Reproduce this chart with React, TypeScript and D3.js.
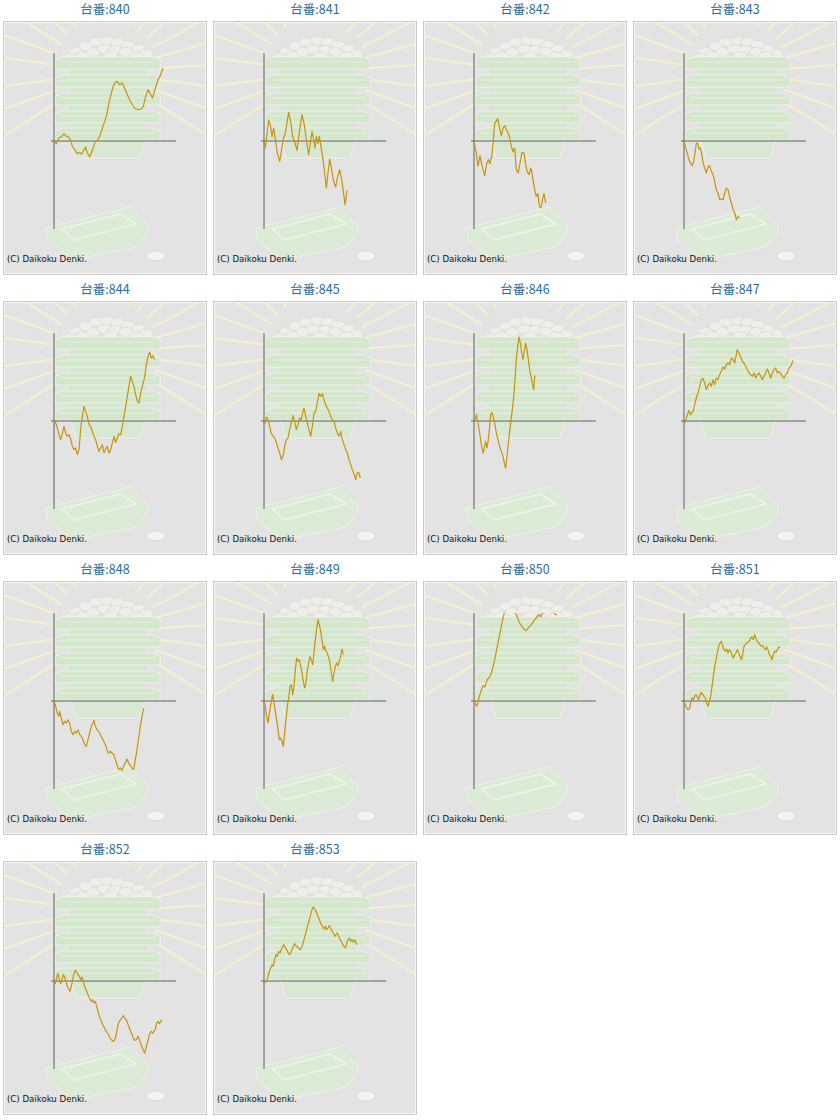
import React from 'react';
import * as d3 from 'd3';

type Pt = [number, number];

// machine numbers (panel titles)
const machines = ['840', '841', '842', '843', '844', '845', '846', '847', '848', '849', '850', '851', '852', '853'];

// [spins, balls]
const s840: Pt[] = [[0,0],[233,-267],[500,333],[733,400],[1000,733],[1233,467],[1467,400],[1667,67],[1833,-533],[2067,-867],[2300,-1267],[2567,-1133],[2767,-1333],[2967,-933],[3167,-600],[3333,-1200],[3567,-1600],[3833,-933],[4100,-133],[4400,133],[4633,633],[4900,1467],[5233,2467],[5567,4133],[5900,5400],[6100,5800],[6300,5967],[6567,5633],[6833,5800],[7100,5200],[7400,4467],[7733,3800],[8067,3300],[8400,3133],[8733,3200],[8933,3467],[9167,4467],[9400,5133],[9633,4733],[9833,4300],[10000,4800],[10233,5633],[10433,6200],[10633,6533],[10900,7300]];
const s841: Pt[] = [[0,0],[133,-700],[300,800],[467,2067],[633,1633],[800,467],[967,1300],[1133,133],[1333,-1200],[1567,-2033],[1733,-1033],[1900,133],[2100,633],[2267,1633],[2467,2867],[2667,1967],[2867,467],[3100,-200],[3300,-933],[3500,633],[3800,2633],[4000,1800],[4233,133],[4467,-1367],[4633,-200],[4800,967],[4967,133],[5100,-700],[5233,467],[5400,-267],[5533,467],[5700,-533],[5900,-1867],[6067,-3200],[6233,-4700],[6400,-3200],[6567,-1800],[6767,-2933],[6967,-4033],[7167,-4600],[7367,-3533],[7567,-2867],[7767,-3867],[7933,-5033],[8100,-6367],[8300,-4933]];
const s842: Pt[] = [[0,0],[233,-1200],[400,-2533],[600,-1467],[800,-2467],[1067,-3467],[1267,-2267],[1433,-1867],[1600,-2267],[1800,-1367],[1933,133],[2067,1733],[2367,2233],[2567,1200],[2733,533],[2900,1300],[3100,1533],[3300,967],[3500,633],[3733,-533],[3900,-1067],[4067,-700],[4233,-2867],[4433,-3200],[4600,-2200],[4800,-1133],[5000,-1200],[5133,-2133],[5300,-3033],[5500,-3367],[5700,-2700],[5900,-3867],[6067,-4867],[6233,-5533],[6400,-5267],[6533,-6533],[6700,-6667],[6867,-5800],[7000,-5267],[7167,-6200]];
const s843: Pt[] = [[0,0],[133,-533],[300,-1133],[500,-1867],[667,-2267],[833,-2467],[967,-2033],[1100,-1200],[1233,-200],[1367,-267],[1500,-800],[1633,-700],[1767,-1267],[1900,-2133],[2067,-2700],[2233,-3200],[2400,-2600],[2567,-2467],[2733,-3033],[2900,-3367],[3067,-4033],[3233,-4867],[3400,-5200],[3567,-5867],[3733,-5800],[3900,-5867],[4067,-5200],[4233,-4700],[4400,-4867],[4567,-5600],[4733,-6200],[4900,-6800],[5067,-7200],[5233,-7867],[5400,-7533],[5567,-7700]];
const s844: Pt[] = [[0,0],[167,-200],[333,-700],[500,-1367],[667,-1867],[833,-1267],[1000,-533],[1167,-1200],[1333,-1533],[1500,-1367],[1667,-1800],[1833,-2533],[2000,-2867],[2167,-2700],[2333,-3367],[2500,-2867],[2667,-867],[2833,467],[3000,1467],[3167,967],[3333,467],[3500,-367],[3667,-533],[3833,-1033],[4000,-1533],[4167,-1867],[4333,-2533],[4500,-3033],[4667,-2700],[4833,-2367],[5000,-3200],[5167,-2800],[5333,-2533],[5500,-3200],[5667,-2867],[5833,-2200],[6000,-1533],[6167,-2133],[6333,-1700],[6500,-1267],[6667,-1367],[6833,-533],[7000,467],[7167,1467],[7333,2467],[7500,3533],[7667,4467],[7833,3967],[8000,3467],[8167,2633],[8333,1967],[8500,1800],[8667,2800],[8833,3467],[9000,4133],[9100,4633],[9233,5633],[9400,6467],[9567,6867],[9733,6300],[9900,6533],[10033,6133]];
const s845: Pt[] = [[0,0],[133,-200],[233,400],[400,133],[567,-533],[733,-1267],[900,-1467],[1067,-1700],[1233,-2133],[1400,-2700],[1567,-3200],[1733,-3867],[1900,-3533],[2067,-2533],[2233,-1867],[2400,-1700],[2567,-867],[2733,-200],[2900,533],[3067,-33],[3233,-867],[3400,-367],[3567,300],[3733,133],[3900,967],[4000,1300],[4167,467],[4333,-200],[4500,-867],[4667,-1533],[4833,-533],[5000,800],[5167,967],[5333,1800],[5500,2733],[5667,2467],[5833,2733],[6000,2133],[6167,1633],[6333,1300],[6500,967],[6667,467],[6833,133],[7000,-33],[7167,-700],[7333,-1200],[7500,-1533],[7667,-1033],[7833,-1867],[8000,-2367],[8167,-2867],[8333,-3200],[8500,-3867],[8667,-4367],[8833,-4867],[9000,-5267],[9167,-5867],[9333,-5133],[9500,-5200],[9633,-5700]];
const s846: Pt[] = [[0,0],[133,133],[233,633],[400,-200],[567,-1200],[733,-2367],[900,-3200],[1033,-2700],[1167,-2033],[1300,-2700],[1433,-1867],[1567,-533],[1667,633],[1800,867],[1900,467],[2067,-200],[2233,-1200],[2400,-1867],[2567,-2533],[2733,-3033],[2900,-3533],[3067,-4367],[3167,-4700],[3300,-3533],[3433,-2200],[3567,-1033],[3700,133],[3833,1133],[3967,2300],[4100,4133],[4233,6133],[4367,7467],[4500,8400],[4633,7800],[4767,6800],[4900,6133],[5033,6967],[5167,7800],[5300,7133],[5433,6133],[5567,5133],[5700,4467],[5833,3800],[5967,3133],[6067,4467],[6167,4533]];
const s847: Pt[] = [[0,0],[133,-133],[233,300],[400,800],[500,1067],[633,633],[767,800],[900,967],[1067,1633],[1233,2300],[1400,2800],[1567,3467],[1733,4133],[1900,4267],[2067,3800],[2233,3133],[2400,3533],[2567,3800],[2733,3467],[2900,4133],[3067,3633],[3233,4300],[3400,4133],[3567,4633],[3733,4967],[3900,5400],[4067,5200],[4233,5633],[4400,5800],[4567,5633],[4733,6300],[4900,6200],[5067,5800],[5233,6633],[5333,7133],[5500,6800],[5667,6400],[5833,5967],[6000,5800],[6167,5467],[6333,5133],[6500,4800],[6667,4633],[6833,4467],[7000,4800],[7167,4300],[7333,4633],[7500,4800],[7667,4467],[7833,4133],[8000,4467],[8167,4800],[8333,5200],[8500,4800],[8667,4300],[8833,4800],[9000,5133],[9167,5300],[9333,4800],[9500,4967],[9667,4733],[9833,4467],[10000,4300],[10167,4633],[10333,4800],[10500,5300],[10667,5467],[10833,5867],[10900,6067]];
const s848: Pt[] = [[0,0],[167,-533],[333,-1200],[467,-1533],[567,-1033],[733,-1700],[900,-2367],[1067,-2033],[1233,-2200],[1400,-1867],[1567,-2200],[1733,-3033],[1900,-3367],[2067,-3033],[2233,-3200],[2400,-2867],[2567,-3367],[2733,-3533],[2900,-3867],[3067,-4367],[3233,-4533],[3400,-3867],[3567,-3200],[3733,-2533],[3900,-2200],[4000,-1933],[4133,-2533],[4300,-2867],[4467,-3033],[4633,-3367],[4800,-3700],[4967,-4033],[5133,-4367],[5300,-4867],[5467,-5200],[5633,-5033],[5800,-5200],[5967,-5367],[6133,-5867],[6300,-6367],[6467,-6867],[6633,-6700],[6800,-6933],[6967,-6533],[7133,-6200],[7300,-5800],[7467,-6200],[7633,-6467],[7800,-6700],[7967,-6867],[8133,-5867],[8300,-4867],[8467,-3700],[8633,-2533],[8800,-1533],[8967,-700]];
const s849: Pt[] = [[0,0],[133,-533],[267,-1533],[400,-2200],[567,-1033],[733,-33],[867,633],[1000,-200],[1133,-1033],[1267,-1867],[1400,-2867],[1533,-3867],[1667,-3700],[1800,-4033],[1933,-4533],[2067,-3200],[2200,-1867],[2333,-533],[2467,300],[2600,1467],[2733,1633],[2867,633],[3000,1467],[3133,3133],[3267,4300],[3400,3967],[3533,4133],[3667,3467],[3800,2800],[3933,1967],[4067,1300],[4200,1800],[4333,3133],[4467,3800],[4600,4467],[4733,4133],[4867,3633],[5000,4800],[5133,6133],[5267,7300],[5400,8133],[5533,7633],[5667,6967],[5800,6133],[5933,5133],[6067,5467],[6200,4967],[6333,4800],[6467,4300],[6600,3800],[6733,2800],[6867,1967],[7000,2800],[7133,3467],[7267,3800],[7400,3533],[7533,3967],[7667,4467],[7800,5200],[7933,4633]];
const s850: Pt[] = [[0,0],[133,-267],[267,-533],[400,-133],[533,467],[667,867],[800,1300],[933,1533],[1067,1400],[1200,1733],[1333,2133],[1467,2300],[1600,2467],[1733,2800],[1867,3300],[2000,3800],[2133,4467],[2267,5133],[2400,5800],[2533,6467],[2667,7133],[2800,7800],[2933,8467],[3067,8867],[3233,9300],[3400,8967],[3567,9133],[3733,9467],[3900,9133],[4067,8867],[4233,8633],[4400,8200],[4567,7800],[4733,7567],[4900,7300],[5067,7133],[5233,7033],[5400,7300],[5567,7467],[5733,7633],[5900,7867],[6067,8133],[6300,8400],[6500,8633],[6667,8400],[6833,8800],[7000,8800],[7167,8867],[7400,9300],[7633,9467],[7833,9133],[8000,8800],[8167,8633],[8300,8633]];
const s851: Pt[] = [[0,0],[133,-367],[267,-700],[400,-867],[533,-800],[667,-200],[800,300],[933,133],[1067,467],[1200,633],[1333,400],[1467,133],[1600,633],[1733,867],[1867,633],[2000,467],[2133,300],[2267,-200],[2400,-533],[2533,-33],[2667,467],[2800,1467],[2933,2467],[3067,3467],[3200,4133],[3333,4800],[3467,5467],[3600,5800],[3733,5967],[3867,5467],[4000,5133],[4133,4967],[4267,5200],[4400,4800],[4533,5133],[4667,4967],[4800,4633],[4933,4300],[5067,4633],[5200,4800],[5333,5133],[5467,4867],[5600,4467],[5733,4133],[5867,4633],[6000,5467],[6133,5633],[6267,5800],[6400,5867],[6533,5967],[6667,6300],[6800,6400],[6933,6133],[7067,6633],[7200,6200],[7333,5967],[7467,5800],[7600,5633],[7733,5467],[7867,5533],[8000,5300],[8133,5133],[8267,5400],[8400,5133],[8533,4633],[8667,4467],[8800,4133],[8933,4633],[9067,4967],[9200,4867],[9333,5133],[9467,5400],[9600,5300]];
const s852: Pt[] = [[0,0],[133,-267],[267,300],[400,733],[533,200],[667,-267],[800,133],[933,633],[1067,400],[1200,-33],[1333,-533],[1467,-800],[1600,-1033],[1733,-533],[1867,133],[2000,800],[2133,1067],[2267,867],[2400,633],[2533,467],[2667,133],[2800,400],[2933,-33],[3067,-533],[3200,-867],[3333,-1200],[3467,-1533],[3600,-1800],[3733,-2033],[3867,-1867],[4000,-2200],[4133,-2033],[4267,-2533],[4400,-3033],[4533,-3533],[4667,-3867],[4800,-4200],[4933,-4533],[5067,-4700],[5200,-5033],[5333,-5200],[5467,-5367],[5600,-5700],[5733,-5867],[5867,-5967],[6000,-6033],[6133,-5700],[6267,-5133],[6400,-4367],[6533,-4033],[6667,-3867],[6800,-3700],[6933,-3467],[7067,-3700],[7200,-3867],[7333,-4133],[7467,-4533],[7600,-4867],[7733,-5200],[7867,-5533],[8000,-5867],[8133,-5933],[8267,-5800],[8400,-5533],[8533,-5867],[8667,-6267],[8800,-6600],[8933,-6933],[9067,-7200],[9200,-6700],[9333,-6200],[9467,-5700],[9600,-5200],[9733,-5033],[9867,-5200],[10000,-5033],[10133,-4800],[10267,-4200],[10400,-4033],[10533,-4267],[10667,-4033],[10800,-3867]];
const s853: Pt[] = [[0,0],[133,-133],[267,-33],[400,467],[533,967],[667,1300],[800,1633],[933,1467],[1067,2133],[1200,2633],[1333,2467],[1467,2967],[1600,2800],[1733,3133],[1867,3467],[2000,3633],[2133,3300],[2267,3133],[2400,2867],[2533,2633],[2667,2800],[2800,3133],[2933,3467],[3067,3733],[3200,3533],[3333,3400],[3467,3300],[3600,3133],[3733,3300],[3867,3633],[4000,4133],[4133,4633],[4267,5133],[4400,5633],[4533,6133],[4667,6633],[4800,7133],[4933,7400],[5067,7200],[5200,6967],[5333,6633],[5467,6300],[5600,5967],[5733,5633],[5867,5400],[6000,5200],[6133,5467],[6267,5133],[6400,5300],[6533,5533],[6667,5300],[6800,4967],[6933,4800],[7067,4467],[7200,4633],[7333,4800],[7467,4467],[7600,4133],[7733,3967],[7867,3633],[8000,3467],[8133,3300],[8267,3733],[8400,4133],[8533,4300],[8667,3967],[8800,4133],[8933,3867],[9067,4133],[9200,3800],[9333,3633]];

const series = [s840, s841, s842, s843, s844, s845, s846, s847, s848, s849, s850, s851, s852, s853];

const spinDomain = [0, 12200];
const ballDomain = [-8800, 8800];

const COLS = 4;
const CELL_W = 210;
const CELL_H = 280;

const x = d3.scaleLinear().domain(spinDomain).range([54, 176]);
const y = d3.scaleLinear().domain(ballDomain).range([229, 53]);
const line = d3.line<Pt>().x(d => x(d[0])).y(d => y(d[1]));

// decorative artwork behind each graph
const rayAngles = [-172, -160, -148, -136, -124, -112, -100, -88, -76, -64, -52, -40, -28, -16, -4, 8, 20, 32, 148, 160, 172];
const balls: Pt[] = [[76, 52], [86, 46], [96, 42], [107, 41], [118, 42], [128, 45], [138, 49], [146, 54], [82, 56], [93, 52], [104, 49], [115, 50], [126, 52], [136, 56], [70, 58], [110, 56]];
const trays = [57, 75, 93, 111, 128];

const Backdrop: React.FC = () => (
  <g>
    <rect x={3.5} y={21.5} width={203} height={253} fill="#e3e3e3" stroke="#c9c9c9" />
    <rect x={4.5} y={22.5} width={201} height={251} fill="none" stroke="#f6f6f6" />
    <g clipPath="url(#panelClip)" stroke="#f3f1cd" strokeWidth={2.2}>
      {rayAngles.map(a => {
        const r = (a * Math.PI) / 180;
        return (
          <line key={a} x1={106 + 52 * Math.cos(r)} y1={72 + 52 * Math.sin(r)}
            x2={106 + 125 * Math.cos(r)} y2={72 + 125 * Math.sin(r)} />
        );
      })}
    </g>
    {balls.map((b, i) => (
      <ellipse key={i} cx={b[0]} cy={b[1]} rx={7} ry={4.5} fill="#efeee9" stroke="#dadad4" strokeWidth={0.8} />
    ))}
    <polygon points="70,138 146,138 140,158 76,158" fill="#d8e8d2" stroke="#f2f2f2" strokeWidth={0.8} />
    <rect x={70} y={58} width={76} height={82} fill="#d6e7d0" />
    {trays.map(t => (
      <g key={t}>
        <polygon points={`55,${t + 3} 63,${t} 152,${t} 160,${t + 3} 160,${t + 12} 55,${t + 12}`}
          fill="#d4e7cd" stroke="#edf5ea" strokeWidth={0.8} />
        <line x1={60} x2={156} y1={t + 5} y2={t + 5} stroke="#e4efe0" strokeWidth={1.2} />
      </g>
    ))}
    <polygon points="46,228 130,207 148,226 147,234 136,247 72,260 48,240"
      fill="#dbebd5" stroke="#f3f3f3" strokeWidth={0.8} />
    <polygon points="62,229 120,214 136,224 74,240" fill="none" stroke="#edf5ea" strokeWidth={1.5} />
    <ellipse cx={156} cy={256} rx={9} ry={5} fill="#f3f3f1" stroke="#d6d6d2" strokeWidth={0.8} />
  </g>
);

export default function App() {
  return (
    <div style={{ position: 'absolute', left: 0, top: 0 }}>
      <svg width={840} height={1120} style={{ display: 'block' }}>
        <rect width={840} height={1120} fill="#ffffff" />
        <defs>
          <clipPath id="panelClip" clipPathUnits="userSpaceOnUse">
            <rect x={4} y={22} width={202} height={252} />
          </clipPath>
          <clipPath id="plotClip" clipPathUnits="userSpaceOnUse">
            <rect x={x(0) - 2} y={y(ballDomain[1])} width={x(spinDomain[1]) - x(0) + 4} height={y(ballDomain[0]) - y(ballDomain[1])} />
          </clipPath>
        </defs>
        {series.map((data, i) => {
          const col = i % COLS;
          const row = Math.floor(i / COLS);
          return (
            <g key={machines[i]} transform={`translate(${col * CELL_W},${row * CELL_H})`}>
              <text x={105} y={14} textAnchor="middle" fontFamily="'Noto Sans CJK JP', sans-serif"
                fontSize={12.5} fill="#2b6e9c">{`台番:${machines[i]}`}</text>
              <Backdrop />
              <line x1={x(0)} x2={x(0)} y1={y(ballDomain[1])} y2={y(ballDomain[0])} stroke="#5e5e5e" strokeWidth={1} />
              <line x1={x(0) - 3} x2={x(spinDomain[1])} y1={y(0)} y2={y(0)} stroke="#5e5e5e" strokeWidth={1} />
              <path d={line(data) ?? ''} fill="none" stroke="#c8940c" strokeWidth={1.2}
                strokeLinejoin="round" clipPath="url(#plotClip)" />
              <text x={7} y={262} fontFamily="'DejaVu Sans', sans-serif" fontSize={8.6} fill="#111">(C) Daikoku Denki.</text>
            </g>
          );
        })}
      </svg>
    </div>
  );
}
